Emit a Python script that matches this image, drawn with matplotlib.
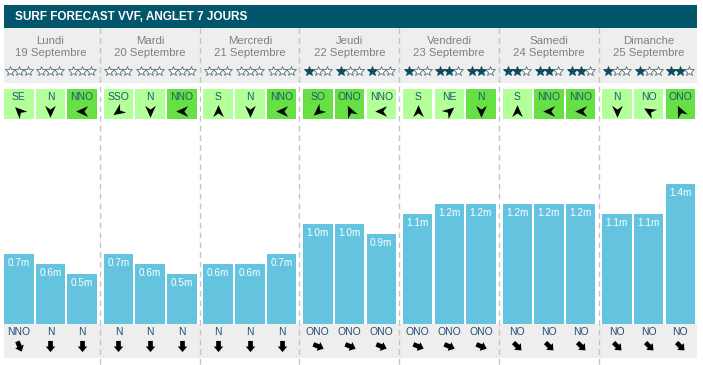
import matplotlib
matplotlib.use('Agg')
import matplotlib.pyplot as plt
from matplotlib.markers import MarkerStyle
from matplotlib.path import Path
from matplotlib.patches import Rectangle
from matplotlib.transforms import Affine2D

plt.rcParams['font.family'] = ['Liberation Sans', 'DejaVu Sans']

title = 'SURF FORECAST VVF, ANGLET 7 JOURS'
days = ['Lundi', 'Mardi', 'Mercredi', 'Jeudi', 'Vendredi', 'Samedi', 'Dimanche']
dates = ['19 Septembre', '20 Septembre', '21 Septembre', '22 Septembre',
         '23 Septembre', '24 Septembre', '25 Septembre']

# stars (0-3) for the three slots of each day
stars = [[0, 0, 0], [0, 0, 0], [0, 0, 0], [1, 1, 1], [1, 2, 2], [2, 2, 2], [1, 1, 2]]

# wind: label, strong (dark green) or not, arrow heading as drawn (deg, clockwise from up)
wind_dir = [['SE', 'N', 'NNO'], ['SSO', 'N', 'NNO'], ['S', 'N', 'NNO'], ['SO', 'ONO', 'NNO'],
            ['S', 'NE', 'N'], ['S', 'NNO', 'NNO'], ['N', 'NO', 'ONO']]
wind_strong = [[0, 0, 1], [0, 0, 1], [0, 0, 1], [1, 1, 0], [0, 0, 1], [0, 1, 1], [0, 0, 1]]
wind_arrow = [[315, 180, 270], [235, 180, 270], [0, 180, 270], [230, 335, 270],
              [0, 50, 180], [0, 270, 270], [180, 300, 335]]

# wave height in metres
wave = [[0.7, 0.6, 0.5], [0.7, 0.6, 0.5], [0.6, 0.6, 0.7], [1.0, 1.0, 0.9],
        [1.1, 1.2, 1.2], [1.2, 1.2, 1.2], [1.1, 1.1, 1.4]]

# swell direction
swell_dir = [['NNO', 'N', 'N'], ['N', 'N', 'N'], ['N', 'N', 'N'], ['ONO', 'ONO', 'ONO'],
             ['ONO', 'ONO', 'ONO'], ['NO', 'NO', 'NO'], ['NO', 'NO', 'NO']]

compass = {'N': 0, 'NNE': 22.5, 'NE': 45, 'ENE': 67.5, 'E': 90, 'ESE': 112.5, 'SE': 135,
           'SSE': 157.5, 'S': 180, 'SSO': 202.5, 'SO': 225, 'OSO': 247.5, 'O': 270,
           'ONO': 292.5, 'NO': 315, 'NNO': 337.5}

W, H = 703, 365
DAY_W = 99.7
SLOT_W = 31.7
BOX_W = 29.5
X0 = 4

TEAL = '#02566c'
TXT = '#1c5b6e'

dart = Path([(0, 1), (0.85, -0.9), (0, -0.3), (-0.85, -0.9), (0, 1)],
            [Path.MOVETO, Path.LINETO, Path.LINETO, Path.LINETO, Path.CLOSEPOLY])
block = Path([(0, 1), (0.85, 0.0), (0.42, 0.0), (0.42, -1), (-0.42, -1),
              (-0.42, 0.0), (-0.85, 0.0), (0, 1)],
             [Path.MOVETO] + [Path.LINETO] * 6 + [Path.CLOSEPOLY])


def arrow_marker(path, heading):
    return MarkerStyle(path, transform=Affine2D().rotate_deg(-heading))


def slot_left(i, j):
    return X0 + DAY_W * i + SLOT_W * j


fig = plt.figure(figsize=(W / 100, H / 100), dpi=100)
ax = fig.add_axes([0, 0, 1, 1])
ax.set_xlim(0, W)
ax.set_ylim(H, 0)
ax.axis('off')

# title bar and grey bands
ax.add_patch(Rectangle((4, 5), 693, 23.3, color=TEAL, lw=0))
ax.text(15, 16.8, title, color='white', fontsize=8.5, fontweight='bold', va='center')
ax.add_patch(Rectangle((4, 28.3), 693, 55, color='#eeeeee', lw=0))
ax.add_patch(Rectangle((4, 323.5), 693, 34.5, color='#eeeeee', lw=0))

# day separators
seps = [100 + DAY_W * k for k in range(len(days) - 1)]
ax.vlines(seps, 28.3, H, colors='#c4c4c4', lw=1, linestyles=(0, (4, 3)))

for i, (day, date) in enumerate(zip(days, dates)):
    cx = slot_left(i, 0) + (2 * SLOT_W + BOX_W) / 2
    ax.text(cx, 40.5, day, color='#808080', fontsize=8.2, ha='center', va='center')
    ax.text(cx, 52.5, date, color='#808080', fontsize=8.2, ha='center', va='center')
    for j in range(3):
        sx = slot_left(i, j) + BOX_W / 2
        # stars
        for k in range(3):
            filled = k < stars[i][j]
            ax.plot(sx + (k - 1) * 9, 71, marker='*', ms=7.5, mew=0.6,
                    mfc='#0d4b5e' if filled else 'white',
                    mec='#0d4b5e' if filled else '#55707a')
        # wind box
        fc = '#66e045' if wind_strong[i][j] else '#b3ff99'
        ax.add_patch(Rectangle((slot_left(i, j), 89), BOX_W, 30, color=fc, lw=0))
        ax.text(sx, 97.5, wind_dir[i][j], color=TXT, fontsize=7.5, ha='center', va='center')
        ax.plot(sx, 110.5, marker=arrow_marker(dart, wind_arrow[i][j]), ms=9,
                color='black', mew=0)
        # swell direction
        ax.text(sx, 332, swell_dir[i][j], color='#1f4f6e', fontsize=7.5,
                ha='center', va='center')
        ax.plot(sx, 346, marker=arrow_marker(block, compass[swell_dir[i][j]] + 180),
                ms=8, color='black', mew=0)

# wave bars, 99.5 px per metre
bottom_px, top_px = 323.5, 124
axb = fig.add_axes([0, (H - bottom_px) / H, 1, (bottom_px - top_px) / H])
axb.set_xlim(0, W)
axb.set_ylim(0, (bottom_px - top_px) / 99.5)
axb.axis('off')
axb.patch.set_alpha(0)

xs = [slot_left(i, j) + BOX_W / 2 for i in range(len(days)) for j in range(3)]
hs = [v for day_vals in wave for v in day_vals]
axb.bar(xs, hs, width=BOX_W, color='#64c3de', lw=0)
for x, h in zip(xs, hs):
    axb.annotate(f'{h:.1f}m', (x, h), xytext=(0, -6.3), textcoords='offset points',
                 color='white', fontsize=7.2, ha='center', va='center')

fig.savefig('out.png', dpi=100)
